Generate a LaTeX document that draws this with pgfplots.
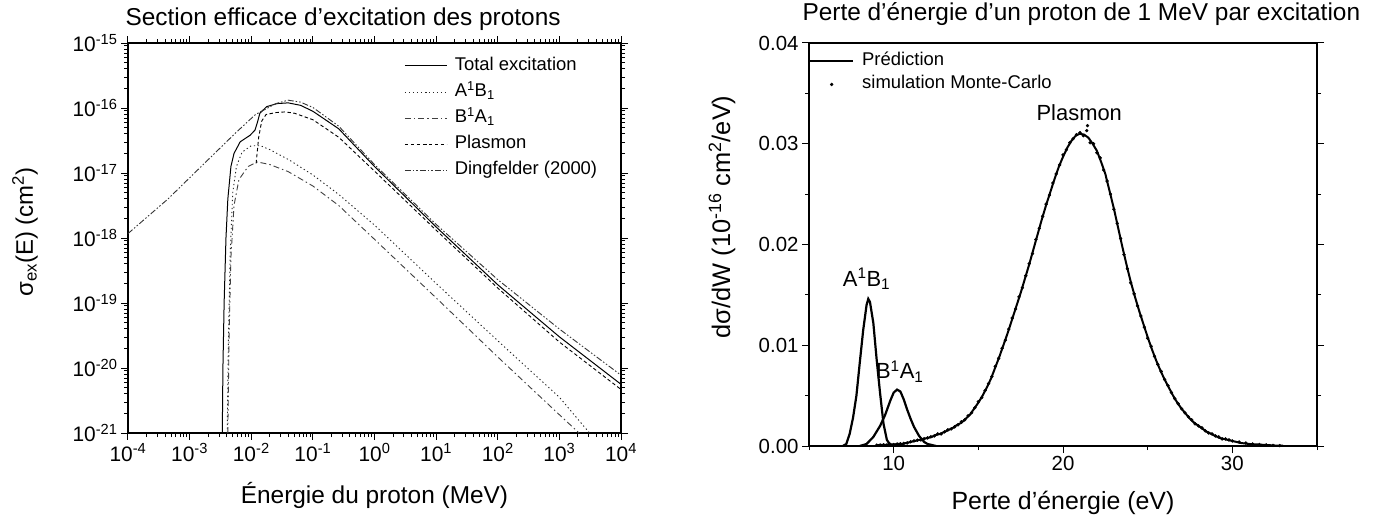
\documentclass[border=0pt]{standalone}
\usepackage{fontspec}
\setmainfont{Liberation Sans}
\usepackage{pgfplots}
\pgfplotsset{compat=1.18}
\newcommand{\fs}[1]{\fontsize{#1}{#1}\selectfont}

\pgfplotstableread{
x y
9.0 0.00007
9.25 0.0001
9.5 0.0001
9.75 0.00015
10.0 0.00015
10.25 0.0002
10.5 0.0002
10.75 0.0003
11.0 0.0004
11.25 0.0005
11.5 0.0006
11.75 0.0007
12.0 0.0008
12.25 0.0009
12.5 0.0011
12.75 0.0012
13.0 0.0014
13.25 0.0016
13.5 0.0018
13.75 0.0021
14.0 0.0023
14.25 0.0027
14.5 0.0031
14.75 0.0037
15.0 0.0043
15.25 0.0050
15.5 0.0058
15.75 0.0067
16.0 0.0078
16.25 0.0089
16.5 0.0101
16.75 0.0113
17.0 0.0126
17.25 0.0139
17.5 0.0152
17.75 0.0166
18.0 0.0180
18.25 0.0195
18.5 0.0210
18.75 0.0225
19.0 0.0239
19.25 0.0252
19.5 0.0265
19.75 0.0277
20.0 0.0287
20.25 0.0296
20.5 0.0303
20.75 0.0308
21.0 0.0310
21.25 0.0309
21.5 0.0306
21.75 0.0300
22.0 0.0293
22.25 0.0282
22.5 0.0270
22.75 0.0253
23.0 0.0236
23.25 0.0217
23.5 0.0198
23.75 0.0180
24.0 0.0163
24.25 0.0148
24.5 0.0134
24.75 0.0121
25.0 0.0108
25.25 0.0096
25.5 0.0085
25.75 0.0075
26.0 0.0066
26.25 0.0058
26.5 0.0050
26.75 0.0043
27.0 0.0037
27.25 0.0032
27.5 0.0027
27.75 0.0023
28.0 0.0020
28.25 0.0017
28.5 0.0014
28.75 0.0012
29.0 0.0010
29.25 0.0008
29.5 0.0007
29.75 0.0006
30.0 0.0005
30.5 0.0003
31.0 0.0002
31.5 0.00015
32.0 0.0001
32.5 0.00005
33.0 0.00003
}\plasmon

\pgfplotstableread{
x y
9.0 0.00008
9.2 0.0001
9.4 0.00012
9.6 0.0001
9.8 0.00016
10.0 0.00014
10.2 0.0002
10.4 0.00022
10.6 0.00026
10.8 0.0003
11.0 0.00042
11.2 0.0005
11.4 0.00058
11.6 0.0006
11.8 0.00072
12.0 0.0008
12.2 0.00092
12.4 0.0010
12.6 0.0012
12.8 0.0012
13.0 0.0014
13.2 0.0016
13.4 0.0017
13.6 0.0019
13.8 0.0021
14.0 0.0024
14.2 0.0026
14.4 0.0030
14.6 0.0033
14.8 0.0038
15.0 0.0044
15.2 0.0048
15.4 0.0055
15.6 0.0062
15.8 0.0069
16.0 0.0079
16.2 0.0087
16.4 0.0097
16.6 0.0105
16.8 0.0116
17.0 0.0127
17.2 0.0136
17.4 0.0148
17.6 0.0157
17.8 0.0169
18.0 0.0181
18.2 0.0191
18.4 0.0205
18.6 0.0216
18.8 0.0228
19.0 0.0240
19.2 0.0249
19.4 0.0261
19.6 0.0270
19.8 0.0279
20.0 0.0289
20.2 0.0294
20.4 0.0301
20.6 0.0305
20.8 0.0309
21.0 0.0311
21.2 0.0308
21.4 0.0313
21.45 0.0318
21.6 0.0301
21.8 0.0300
22.0 0.0291
22.2 0.0286
22.4 0.0274
22.6 0.0263
22.8 0.0250
23.0 0.0235
23.2 0.0221
23.4 0.0206
23.6 0.0190
23.8 0.0176
24.0 0.0162
24.2 0.0151
24.4 0.0139
24.6 0.0129
24.8 0.0118
25.0 0.0107
25.2 0.0099
25.4 0.0089
25.6 0.0081
25.8 0.0074
26.0 0.0066
26.2 0.0060
26.4 0.0053
26.6 0.0047
26.8 0.0042
27.0 0.0037
27.2 0.0033
27.4 0.0029
27.6 0.0026
27.8 0.0022
28.0 0.0020
28.2 0.0018
28.4 0.0015
28.6 0.0013
28.8 0.0012
29.0 0.0010
29.2 0.0009
29.4 0.0007
29.6 0.0007
29.8 0.0006
30.0 0.0005
30.4 0.0004
30.8 0.0003
31.2 0.0002
31.6 0.00015
32.0 0.0001
32.4 0.00006
32.8 0.00004
}\montecarlo

\begin{document}
\begin{tikzpicture}
\path[use as bounding box] (0bp,0bp) rectangle (1381bp,526bp);

% ---------------- Left panel ----------------
\begin{axis}[
  at={(128bp,93bp)}, anchor=south west, scale only axis,
  width=493bp, height=390bp,
  xmode=log, ymode=log,
  xmin=1e-4, xmax=1e4, ymin=1e-21, ymax=1e-15,
  xtick={1e-4,1e-3,1e-2,1e-1,1,1e1,1e2,1e3,1e4},
  xticklabels={10\textsuperscript{-4},10\textsuperscript{-3},10\textsuperscript{-2},10\textsuperscript{-1},10\textsuperscript{0},10\textsuperscript{1},10\textsuperscript{2},10\textsuperscript{3},10\textsuperscript{4}},
  ytick={1e-21,1e-20,1e-19,1e-18,1e-17,1e-16,1e-15},
  yticklabels={10\textsuperscript{-21},10\textsuperscript{-20},10\textsuperscript{-19},10\textsuperscript{-18},10\textsuperscript{-17},10\textsuperscript{-16},10\textsuperscript{-15}},
  minor xtick={2e-4,3e-4,4e-4,5e-4,6e-4,7e-4,8e-4,9e-4,
    2e-3,3e-3,4e-3,5e-3,6e-3,7e-3,8e-3,9e-3,
    2e-2,3e-2,4e-2,5e-2,6e-2,7e-2,8e-2,9e-2,
    0.2,0.3,0.4,0.5,0.6,0.7,0.8,0.9,
    2,3,4,5,6,7,8,9,20,30,40,50,60,70,80,90,
    200,300,400,500,600,700,800,900,2000,3000,4000,5000,6000,7000,8000,9000},
  minor ytick={2e-21,3e-21,4e-21,5e-21,6e-21,7e-21,8e-21,9e-21,
    2e-20,3e-20,4e-20,5e-20,6e-20,7e-20,8e-20,9e-20,
    2e-19,3e-19,4e-19,5e-19,6e-19,7e-19,8e-19,9e-19,
    2e-18,3e-18,4e-18,5e-18,6e-18,7e-18,8e-18,9e-18,
    2e-17,3e-17,4e-17,5e-17,6e-17,7e-17,8e-17,9e-17,
    2e-16,3e-16,4e-16,5e-16,6e-16,7e-16,8e-16,9e-16},
  tick align=outside, xtick pos=both, ytick pos=both,
  major tick length=7bp, minor tick length=4bp,
  tick style={line width=1bp, black},
  axis line style={line width=1.5bp},
  tick label style={font=\fs{21}},
  legend style={at={(0.560,0.975)}, anchor=north west, draw=none, fill=none,
    font=\fs{18.5}, inner sep=0pt,
    nodes={text height=13bp, text depth=4bp, inner ysep=4.5bp}},
  legend cell align=left,
  legend image code/.code={\draw[mark repeat=2,mark phase=2,#1] plot coordinates {(0bp,0bp) (21bp,0bp) (42bp,0bp)}; \path[draw=none] (0bp,0bp) (48bp,0bp);},
]
% Total excitation
\addplot[black, line width=1bp] coordinates {
(3.39e-3,1e-21) (3.47e-3,1e-20) (3.63e-3,1e-19) (3.89e-3,1e-18) (4.17e-3,3.98e-18)
(4.68e-3,1.26e-17) (5.25e-3,2.0e-17) (6.61e-3,3.02e-17) (9.55e-3,3.80e-17)
(1.15e-2,4.57e-17) (1.26e-2,6.03e-17) (1.38e-2,8.32e-17) (1.78e-2,1.05e-16)
(2.63e-2,1.17e-16) (3.98e-2,1.20e-16) (6.31e-2,1.10e-16) (0.1,8.91e-17)
(0.263,4.79e-17) (1,1.26e-17) (10,1.48e-18) (100,1.91e-19) (1000,3.02e-20) (1e4,5.62e-21)};
\addlegendentry{Total excitation}
% A1B1
\addplot[black!85, line width=0.9bp, dash pattern=on 1.3bp off 2.7bp] coordinates {
(4.07e-3,1e-21) (4.27e-3,3.16e-20) (4.57e-3,6.31e-19) (5.01e-3,5.01e-18) (5.75e-3,1.26e-17)
(7.08e-3,2.09e-17) (1e-2,2.63e-17) (1.41e-2,2.63e-17) (2.0e-2,2.29e-17) (4.17e-2,1.58e-17)
(0.1,9.33e-18) (0.263,4.68e-18) (1,1.58e-18) (10,2.0e-19) (100,2.63e-20) (1000,3.55e-21) (3090,1e-21)};
\addlegendentry{A\textsuperscript{1}B\textsubscript{1}}
% B1A1
\addplot[black!75, line width=0.9bp, dash pattern=on 6bp off 3bp on 1.5bp off 3bp] coordinates {
(4.17e-3,1e-21) (4.37e-3,3.16e-20) (4.68e-3,5.01e-19) (5.25e-3,3.16e-18) (6.31e-3,7.94e-18)
(8.91e-3,1.26e-17) (1.26e-2,1.48e-17) (2.0e-2,1.35e-17) (3.98e-2,1.05e-17) (0.1,6.31e-18)
(0.263,3.16e-18) (1,9.55e-19) (10,1.20e-19) (100,1.48e-20) (1000,1.91e-21) (2090,1e-21)};
\addlegendentry{B\textsuperscript{1}A\textsubscript{1}}
% Plasmon
\addplot[black, line width=0.9bp, dash pattern=on 3.5bp off 2.5bp] coordinates {
(1.20e-2,1.41e-17) (1.32e-2,3.55e-17) (1.48e-2,6.31e-17) (1.74e-2,7.94e-17) (2.51e-2,8.51e-17)
(3.55e-2,8.71e-17) (5.01e-2,8.32e-17) (0.1,6.61e-17) (0.263,3.55e-17) (1,1.07e-17)
(10,1.32e-18) (100,1.70e-19) (1000,2.51e-20) (1e4,4.68e-21)};
\addlegendentry{Plasmon}
% Dingfelder
\addplot[black!80, line width=0.9bp, dash pattern=on 6bp off 2bp on 1.5bp off 2bp on 1.5bp off 2bp] coordinates {
(1e-4,1.17e-18) (4.47e-4,4.0e-18) (1.74e-3,1.41e-17) (5.62e-3,4.17e-17) (1.17e-2,7.94e-17)
(2.51e-2,1.17e-16) (3.98e-2,1.32e-16) (6.31e-2,1.23e-16) (0.1,1.02e-16) (0.263,5.25e-17)
(1,1.35e-17) (10,1.62e-18) (100,2.29e-19) (1000,3.98e-20) (1e4,7.76e-21)};
\addlegendentry{Dingfelder (2000)}
\end{axis}

% ---------------- Right panel ----------------
\begin{axis}[
  at={(809bp,80bp)}, anchor=south west, scale only axis,
  width=508bp, height=403bp,
  xmin=5, xmax=35, ymin=0, ymax=0.04,
  xtick={10,20,30}, minor xtick={5,15,25,35},
  ytick={0,0.01,0.02,0.03,0.04}, minor ytick={0.005,0.015,0.025,0.035},
  scaled y ticks=false,
  yticklabel style={/pgf/number format/.cd, fixed, fixed zerofill, precision=2},
  /pgf/number format/assume math mode=true,
  tick align=outside, xtick pos=bottom, ytick pos=both,
  major tick length=7bp, minor tick length=4bp,
  tick style={line width=1bp, black},
  axis line style={line width=1.5bp},
  tick label style={font=\fs{20.5}},
  legend style={at={(0,0.985)}, anchor=north west, draw=none, fill=none,
    font=\fs{18.5}, inner sep=0pt,
    nodes={text height=13bp, text depth=4bp, inner ysep=3.25bp}},
  legend cell align=left,
  legend image code/.code={\draw[mark repeat=2,mark phase=2,#1] plot coordinates {(0bp,0bp) (21.5bp,0bp) (43bp,0bp)}; \path[draw=none] (0bp,0bp) (50bp,0bp);},
]
\addplot[black, line width=2bp] table[x=x,y=y] {\plasmon};
\addlegendentry{Prédiction}
\addplot[black, only marks, mark=*, mark size=1.5bp] table[x=x,y=y] {\montecarlo};
\addlegendentry{simulation Monte-Carlo}
\addplot[black, line width=2.2bp, forget plot] coordinates {
(7.0,0) (7.2,0.0002) (7.4,0.0012) (7.6,0.0028) (7.8,0.0050) (8.0,0.0083) (8.2,0.0115)
(8.4,0.0140) (8.5,0.0146) (8.6,0.0143) (8.8,0.0122) (9.0,0.0085) (9.2,0.0052)
(9.4,0.0022) (9.6,0.0006) (9.8,0.0001) (10.0,0)};
\addplot[black, line width=2.2bp, forget plot] coordinates {
(8.0,0) (8.4,0.0002) (8.8,0.0009) (9.2,0.0020) (9.5,0.0031) (9.8,0.0045) (10.0,0.0053)
(10.2,0.0056) (10.4,0.0054) (10.6,0.0046) (10.8,0.0036) (11.0,0.0027) (11.2,0.0019)
(11.5,0.0010) (11.8,0.0004) (12.0,0.0002) (12.5,0)};
\addplot[black, line width=1.6bp, forget plot] coordinates {(6.8,0) (9.0,0)};
\node[font=\fs{22}] at (axis cs:8.4,0.0166) {A\textsuperscript{1}B\textsubscript{1}};
\node[font=\fs{22}] at (axis cs:10.36,0.0074) {B\textsuperscript{1}A\textsubscript{1}};
\node[font=\fs{22}] at (axis cs:20.96,0.0331) {Plasmon};
\end{axis}

% titles and axis labels
\node[anchor=base west, font=\fs{24.5}] at (122bp,500bp) {Section efficace d'excitation des protons};
\node[anchor=base west, font=\fs{24.5}] at (799bp,505bp) {Perte d'énergie d'un proton de 1 MeV par excitation};
\node[anchor=base, font=\fs{24.5}] at (374.5bp,23bp) {Énergie du proton (MeV)};
\node[anchor=base, font=\fs{25}] at (1063bp,17bp) {Perte d'énergie (eV)};
\node[rotate=90, font=\fs{24}] at (25bp,294bp) {σ\textsubscript{ex}(E) (cm\textsuperscript{2})};
\node[rotate=90, font=\fs{25.5}] at (722bp,309bp) {dσ/dW (10\textsuperscript{-16} cm\textsuperscript{2}/eV)};
\end{tikzpicture}
\end{document}
